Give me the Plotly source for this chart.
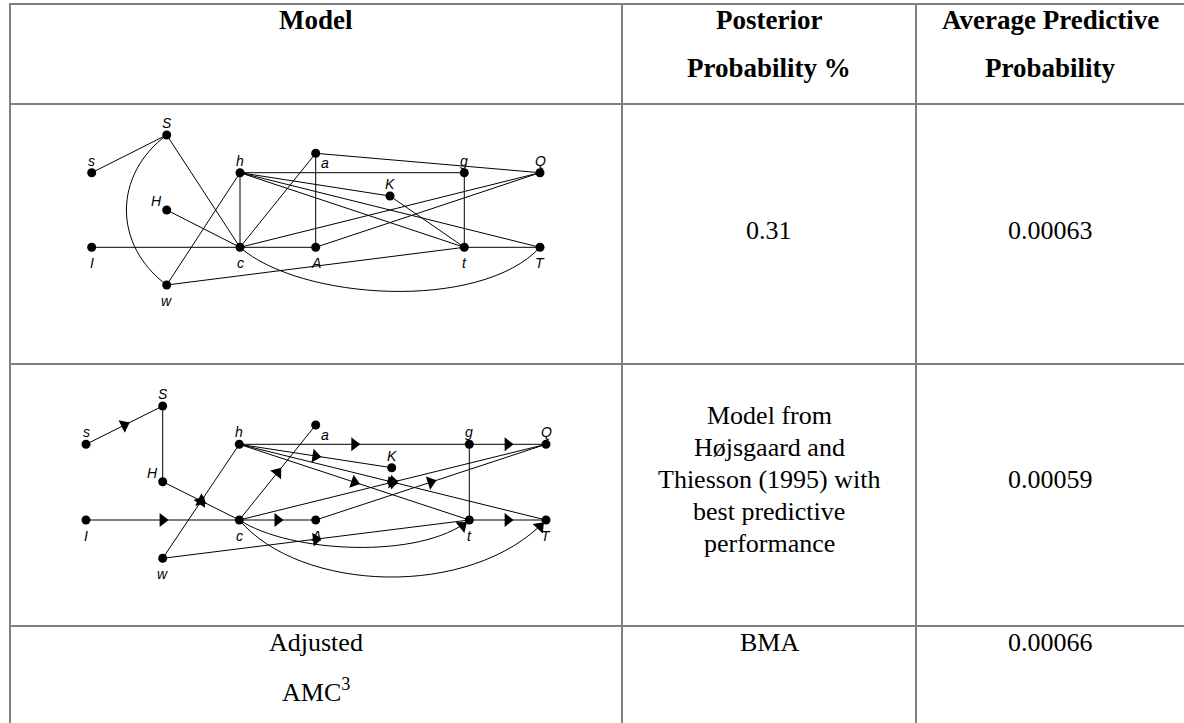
import math
import plotly.graph_objects as go

W, H = 1184, 723

# ---------------- table data ----------------
col_edges = [10, 622, 916, 1184]
row_edges = [4, 104, 364, 626, 723]
header_row1 = ["Model", "Posterior", "Average Predictive"]
header_row2 = ["", "Probability %", "Probability"]
row1_values = ["", "0.31", "0.00063"]
row2_model_text = ["Model from", "Højsgaard and", "Thiesson (1995) with", "best predictive", "performance"]
row2_value = "0.00059"
row3_model = ["Adjusted", "AMC<sup>3</sup>"]
row3_posterior = "BMA"
row3_value = "0.00066"

# ---------------- graph 1 (undirected) ----------------
g1_names = ["s", "S", "H", "w", "I", "h", "c", "a", "A", "K", "g", "t", "Q", "T"]
g1_x = [91.7, 166.7, 166.7, 166.7, 91.7, 240, 240, 315.7, 315.7, 390, 464.3, 464.3, 540, 540]
g1_y = [172.7, 135, 210, 285, 247.3, 172.7, 247.3, 153.3, 247.3, 196, 172.7, 247.3, 172.7, 247.3]
g1_label_pos = ["above", "above", "left", "below", "below", "above", "below", "belowright",
                "below", "above", "above", "below", "above", "below"]
g1_edges = [("s", "S"), ("S", "c"), ("H", "c"), ("h", "c"), ("w", "h"), ("a", "c"), ("a", "A"),
            ("a", "Q"), ("h", "g"), ("h", "K"), ("h", "t"), ("h", "T"), ("K", "t"), ("g", "t"),
            ("c", "Q"), ("A", "Q"), ("I", "c"), ("c", "A"), ("t", "T"), ("w", "t")]
g1_curves = [("S", "w", (113, 175), (113, 245)), ("c", "T", (300, 300), (480, 312))]

# ---------------- graph 2 (directed) ----------------
g2_names = ["s", "S", "H", "w", "I", "h", "c", "a", "A", "K", "X", "g", "t", "Q", "T"]
g2_x = [86, 162.7, 162.7, 162.7, 86, 239.3, 239.3, 315.7, 315.7, 391.7, 391.7, 469.3, 469.3, 546, 546]
g2_y = [444.3, 406, 481.7, 558.3, 520, 444.3, 520, 425, 520, 467.7, 481.7, 444.3, 520, 444.3, 520]
g2_label_pos = ["above", "above", "left", "below", "below", "above", "below", "belowright",
                "below", "above", "none", "above", "below", "above", "below"]
g2_edges = [("s", "S", True), ("S", "H", False), ("H", "c", True), ("w", "h", True), ("I", "c", True),
            ("c", "a", True), ("c", "A", True), ("h", "g", True), ("g", "Q", True), ("h", "K", True),
            ("h", "t", True), ("h", "T", True), ("c", "Q", True), ("A", "Q", True), ("g", "t", False),
            ("t", "T", True), ("w", "t", True)]
g2_curves = [("c", "t", (290, 553), (420, 560)), ("c", "T", (300, 592), (470, 600))]

fig = go.Figure()

def pos(names, xs, ys):
    return {n: (x, y) for n, x, y in zip(names, xs, ys)}

P1 = pos(g1_names, g1_x, g1_y)
P2 = pos(g2_names, g2_x, g2_y)

def add_edges(P, edges):
    ex, ey = [], []
    for e in edges:
        a, b = e[0], e[1]
        ex += [P[a][0], P[b][0], None]
        ey += [P[a][1], P[b][1], None]
    fig.add_trace(go.Scatter(x=ex, y=ey, mode="lines", line=dict(color="black", width=1),
                             hoverinfo="skip", showlegend=False))

def add_curves(P, curves):
    for a, b, c1, c2 in curves:
        path = "M {} {} C {} {}, {} {}, {} {}".format(P[a][0], P[a][1], c1[0], c1[1], c2[0], c2[1], P[b][0], P[b][1])
        fig.add_shape(type="path", path=path, xref="x", yref="y", line=dict(color="black", width=1))

add_edges(P1, g1_edges)
add_curves(P1, g1_curves)
add_edges(P2, g2_edges)
add_curves(P2, g2_curves)

# arrowheads
ax, ay, aang = [], [], []
for a, b, arr in g2_edges:
    if not arr:
        continue
    x0, y0 = P2[a]; x1, y1 = P2[b]
    ax.append((x0 + x1) / 2); ay.append((y0 + y1) / 2)
    aang.append(math.degrees(math.atan2(y1 - y0, x1 - x0)))
for a, b, c1, c2 in g2_curves:
    x1, y1 = P2[b]
    dx, dy = x1 - c2[0], y1 - c2[1]
    L = math.hypot(dx, dy)
    ax.append(x1 - dx / L * 9); ay.append(y1 - dy / L * 9)
    aang.append(math.degrees(math.atan2(dy, dx)))
fig.add_trace(go.Scatter(x=ax, y=ay, mode="markers",
                         marker=dict(symbol="triangle-right", size=12, color="black", angle=aang,
                                     line=dict(width=0)),
                         hoverinfo="skip", showlegend=False))

# nodes
for P, names in ((P1, g1_names), (P2, g2_names)):
    fig.add_trace(go.Scatter(x=[P[n][0] for n in names], y=[P[n][1] for n in names], mode="markers",
                             marker=dict(size=9, color="black", line=dict(width=0)),
                             hoverinfo="skip", showlegend=False))

# node labels
offs = {"above": (0, -12, "center"), "below": (0, 16, "center"), "left": (-10, -9, "center"),
        "belowright": (9, 10, "center")}
for P, names, lp in ((P1, g1_names, g1_label_pos), (P2, g2_names, g2_label_pos)):
    for n, p in zip(names, lp):
        if p == "none":
            continue
        dx, dy, anc = offs[p]
        fig.add_annotation(x=P[n][0] + dx, y=P[n][1] + dy, text=n, showarrow=False,
                           xanchor=anc, yanchor="middle",
                           font=dict(family="Liberation Sans", size=14, color="black", style="italic"))

# table lines
LC = "#808080"
for y in row_edges[:-1]:
    fig.add_shape(type="line", x0=col_edges[0] - 1, x1=W, y0=y, y1=y, xref="x", yref="y",
                  line=dict(color=LC, width=2))
for x in col_edges[:-1]:
    fig.add_shape(type="line", x0=x, x1=x, y0=row_edges[0] - 1, y1=H, xref="x", yref="y",
                  line=dict(color=LC, width=2))

centers = [(col_edges[i] + col_edges[i + 1]) / 2 for i in range(3)]
SERIF = "Liberation Serif"
FS = 26

def txt(x, y, s, bold=False, size=FS):
    fig.add_annotation(x=x, y=y, text=("<b>%s</b>" % s) if bold else s, showarrow=False,
                       xanchor="center", yanchor="middle",
                       font=dict(family=SERIF, size=size, color="black"))

for i in range(3):
    txt(centers[i], 20, header_row1[i], bold=True, size=27)
    if header_row2[i]:
        txt(centers[i], 68, header_row2[i], bold=True, size=27)
    if row1_values[i]:
        txt(centers[i], 230, row1_values[i])
for k, s in enumerate(row2_model_text):
    txt(centers[1], 415 + 32 * k, s)
txt(centers[2], 479, row2_value)
txt(centers[0], 642, row3_model[0])
txt(centers[0], 690, row3_model[1])
txt(centers[1], 642, row3_posterior)
txt(centers[2], 642, row3_value)

fig.update_layout(width=W, height=H, margin=dict(l=0, r=0, t=0, b=0),
                  paper_bgcolor="white", plot_bgcolor="white",
                  xaxis=dict(range=[0, W], visible=False, fixedrange=True),
                  yaxis=dict(range=[H, 0], visible=False, fixedrange=True))
fig.write_html("out.html", config={"displayModeBar": False, "staticPlot": True},
               post_script="document.body.style.margin='0';document.body.style.overflow='hidden';")
